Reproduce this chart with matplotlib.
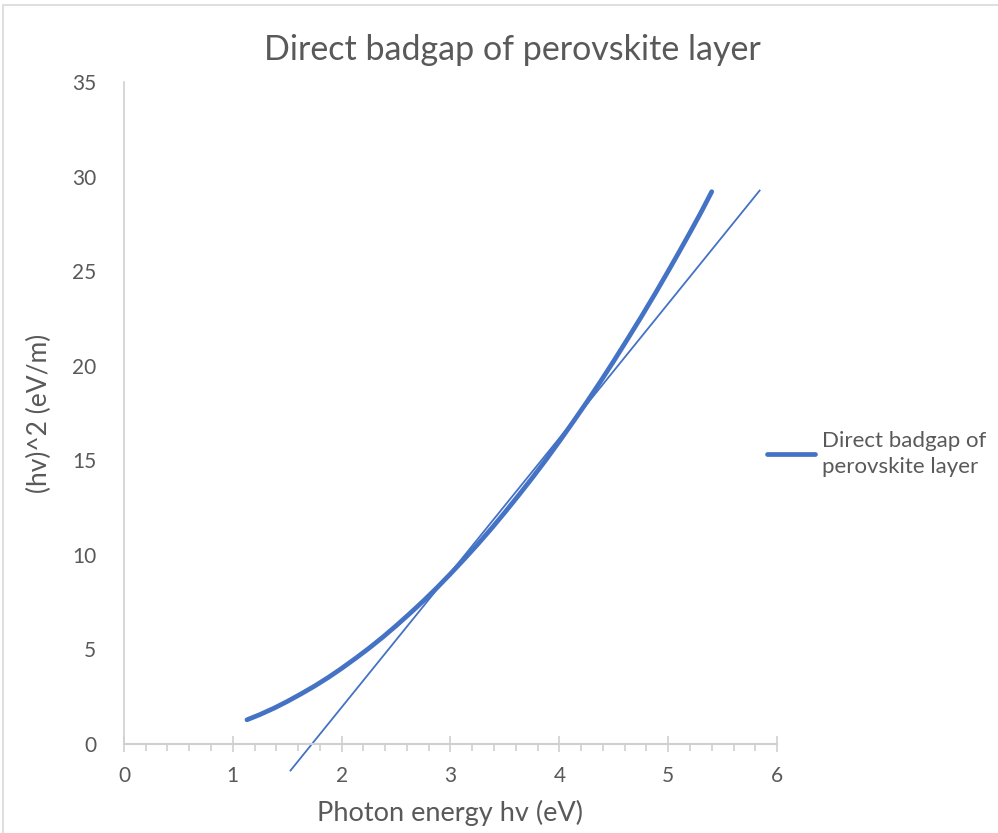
import matplotlib
matplotlib.use('Agg')
import matplotlib.pyplot as plt
import matplotlib.ticker as mticker
from matplotlib.patches import Rectangle

BLUE = '#4472C4'
TEXT = '#595959'
AXIS = '#D0D0D0'

# Measured curve (hv vs (hv)^2)
hv = [1.13, 1.25, 1.38, 1.5, 1.63, 1.75, 1.88, 2.0, 2.13, 2.25, 2.38, 2.5,
      2.63, 2.75, 2.88, 3.0, 3.13, 3.25, 3.38, 3.5, 3.63, 3.75, 3.88, 4.0,
      4.13, 4.25, 4.38, 4.5, 4.63, 4.75, 4.88, 5.0, 5.1, 5.2, 5.3, 5.4]
hv_sq = [1.28, 1.56, 1.9, 2.25, 2.66, 3.06, 3.53, 4.0, 4.54, 5.06, 5.66, 6.25,
         6.92, 7.56, 8.29, 9.0, 9.8, 10.56, 11.42, 12.25, 13.18, 14.06, 15.05,
         16.0, 17.06, 18.06, 19.18, 20.25, 21.44, 22.56, 23.81, 25.0, 26.01,
         27.04, 28.09, 29.2]

# Linear tangent fit
fit_x = [1.53, 5.84]
fit_y = [-1.4, 29.26]

x_ticks = [0, 1, 2, 3, 4, 5, 6]
y_ticks = [0, 5, 10, 15, 20, 25, 30, 35]

plt.rcParams['font.family'] = ['Lato', 'DejaVu Sans']

fig = plt.figure(figsize=(9.98, 8.33), dpi=100)
fig.patch.set_facecolor('white')
fig.patches.append(Rectangle((0.003, -0.01), 1.1, 1.0 - 0.006 + 0.01,
                             transform=fig.transFigure, fill=False,
                             edgecolor='#D9D9D9', linewidth=1.2))

ax = fig.add_axes([0.1242, 0.1068, 0.6544, 0.7948])

line, = ax.plot(hv, hv_sq, color=BLUE, linewidth=3.4, solid_capstyle='round',
                solid_joinstyle='round',
                label='Direct badgap of\nperovskite layer', zorder=3)
ax.plot(fit_x, fit_y, color=BLUE, linewidth=1.3, clip_on=False, zorder=2)

ax.set_xlim(0, 6)
ax.set_ylim(0, 35)
ax.set_xticks(x_ticks)
ax.set_yticks(y_ticks)
ax.xaxis.set_minor_locator(mticker.MultipleLocator(0.2))

for side in ['top', 'right']:
    ax.spines[side].set_visible(False)
ax.spines['left'].set_color(AXIS)
ax.spines['bottom'].set_color(AXIS)
ax.spines['left'].set_linewidth(1.2)
ax.spines['bottom'].set_linewidth(1.5)

ax.tick_params(axis='x', which='major', direction='inout', length=11,
               width=1.2, color=AXIS, labelcolor=TEXT, labelsize=15, pad=10)
ax.tick_params(axis='x', which='minor', direction='out', length=5,
               width=1.2, color=AXIS)
ax.tick_params(axis='y', length=0, labelcolor=TEXT, labelsize=15, pad=20)

ax.set_xlabel('Photon energy hv (eV)', fontsize=19.5, color=TEXT, labelpad=10)
ax.set_ylabel('(hv)^2 (eV/m)', fontsize=19, color=TEXT, labelpad=14)
ax.set_title('Direct badgap of perovskite layer', fontsize=24.5, color=TEXT,
             pad=16, x=0.594)

leg = fig.legend(handles=[line], loc='center left',
                 bbox_to_anchor=(0.748, 0.455), frameon=False, fontsize=16,
                 handlelength=2.2, handletextpad=0.3, labelcolor=TEXT)
for t in leg.get_texts():
    t.set_linespacing(1.35)

fig.savefig('out.png', dpi=100, facecolor='white')
